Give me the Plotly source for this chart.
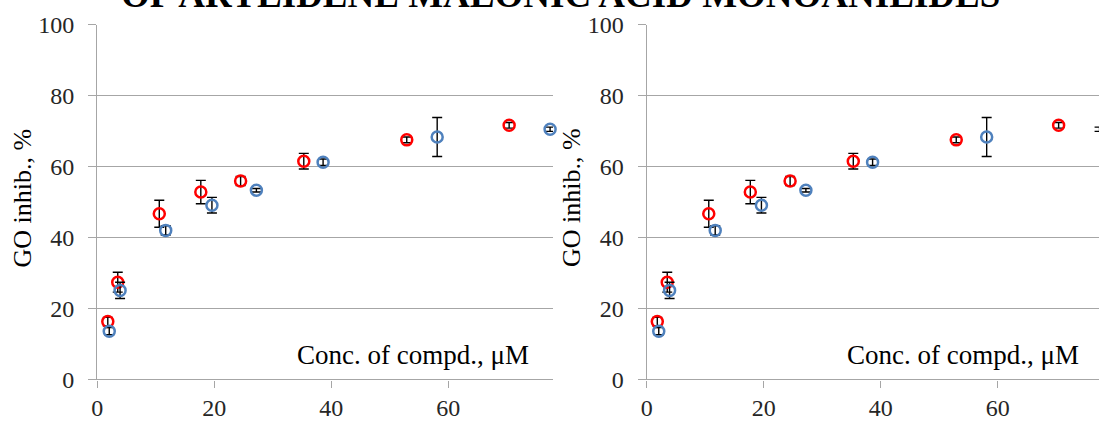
import plotly.graph_objects as go

# Concentration (µM), GO inhibition (%) and standard deviations for two series
red_conc = [1.8, 3.5, 10.6, 17.7, 24.5, 35.3, 52.9, 70.4]
red_inhib = [16.3, 27.4, 46.7, 52.8, 55.9, 61.5, 67.5, 71.6]
red_err = [1.2, 2.8, 3.8, 3.3, 1.3, 2.2, 0.8, 0.8]

blue_conc = [2.05, 3.9, 11.7, 19.6, 27.2, 38.6, 58.1, 77.4]
blue_inhib = [13.6, 25.1, 42.0, 49.1, 53.3, 61.2, 68.3, 70.5]
blue_err = [1.0, 2.3, 1.3, 2.2, 0.5, 0.9, 5.5, 0.6]

y_ticks = [0, 20, 40, 60, 80, 100]
x_ticks = [0, 20, 40, 60]

TITLE = "OF ARYLIDENE MALONIC ACID MONOANILIDES"
Y_TITLE = "GO inhib., %"
X_TITLE = "Conc. of compd., \u03bcM"

SERIF = "Times New Roman, Liberation Serif, serif"
GRID = "#a6a6a6"
RED = "#ff0000"
BLUE = "#4f81bd"

W, H = 1099, 421

fig = go.Figure()

panels = [("x", "y", [0.0885, 0.5032], [0, 77.9]),
          ("x2", "y2", [0.5885, 1.0], [0, 77.3])]

for xa, ya, dom, xr in panels:
    for xs, ys, es, col in [(red_conc, red_inhib, red_err, RED),
                            (blue_conc, blue_inhib, blue_err, BLUE)]:
        fig.add_trace(go.Scatter(
            x=xs, y=ys, xaxis=xa, yaxis=ya, mode="markers",
            marker=dict(symbol="circle-open", size=11, color=col,
                        line=dict(width=2.5, color=col)),
            error_y=dict(type="data", array=es, visible=True,
                         color="#000000", thickness=1.4, width=5),
            cliponaxis=False, showlegend=False, hoverinfo="x+y",
        ))

ydom = [0.0986, 0.9418]
axis_font = dict(family=SERIF, size=24, color="#262626")

for i, (xa, ya, dom, xr) in enumerate(panels):
    sfx = "" if i == 0 else "2"
    fig.update_layout(**{
        "xaxis" + sfx: dict(
            domain=dom, range=xr, anchor="y" + sfx,
            tickvals=x_ticks, ticks="outside", ticklen=7, tickwidth=1.3,
            tickcolor=GRID, showline=True, linecolor=GRID, linewidth=1.3,
            showgrid=False, zeroline=False, tickfont=axis_font,
        ),
        "yaxis" + sfx: dict(
            domain=ydom, range=[0, 100], anchor="x" + sfx,
            tickvals=y_ticks, ticks="outside", ticklen=8, tickwidth=1.3,
            tickcolor=GRID, showline=True, linecolor=GRID, linewidth=1.3,
            showgrid=True, gridcolor=GRID, gridwidth=1.3, zeroline=False,
            tickfont=axis_font, ticklabelstandoff=9,
        ),
    })

annotations = [
    dict(text="<b>" + TITLE + "</b>", xref="paper", yref="paper",
         x=560 / W, y=(H - 17) / H, xanchor="center", yanchor="bottom",
         showarrow=False, font=dict(family=SERIF, size=37, color="#000000")),
]
for i, xc in enumerate([21.5, 571]):
    sfx = "" if i == 0 else "2"
    annotations.append(dict(
        text=Y_TITLE, xref="paper", yref="paper", x=xc / W, y=(H - 198) / H,
        xanchor="center", yanchor="middle", textangle=-90, showarrow=False,
        font=dict(family=SERIF, size=26, color="#000000")))
    annotations.append(dict(
        text=X_TITLE, xref="x" + sfx, yref="y" + sfx, x=74.2, y=6.8,
        xanchor="right", yanchor="middle", showarrow=False,
        font=dict(family=SERIF, size=27, color="#000000")))

fig.update_layout(
    width=W, height=H,
    margin=dict(l=0, r=0, t=0, b=0, autoexpand=False),
    paper_bgcolor="#ffffff", plot_bgcolor="#ffffff",
    annotations=annotations,
)

fig.write_html("out.html")
